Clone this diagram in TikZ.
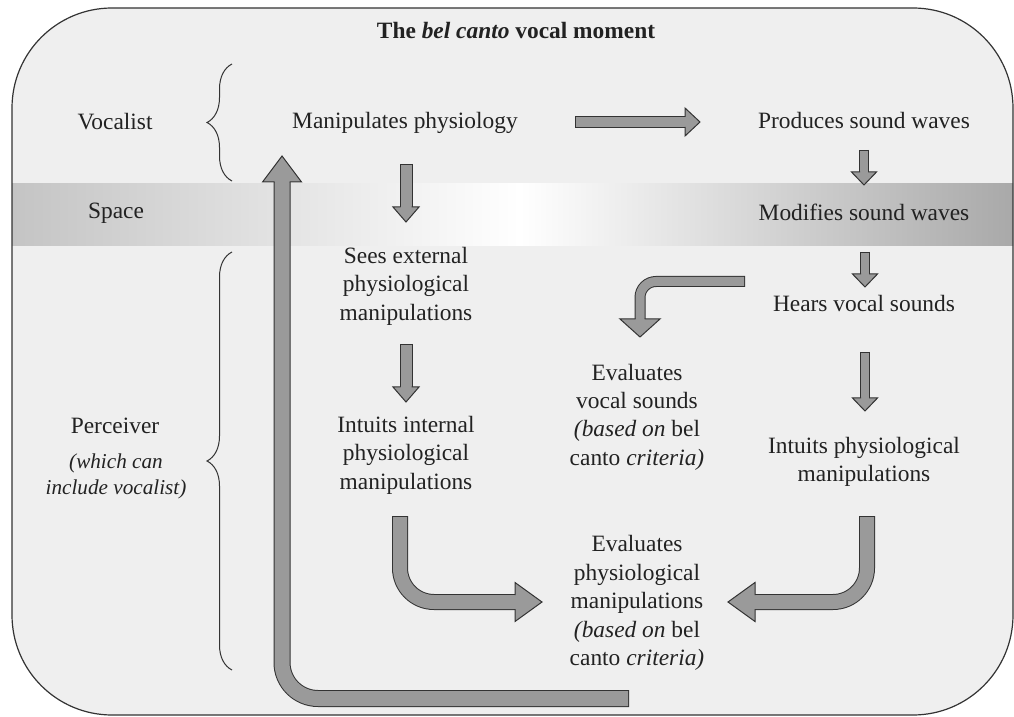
\documentclass[tikz,border=0pt]{standalone}
\usepackage{fontspec}
\setmainfont{Liberation Serif}
\usetikzlibrary{decorations.pathreplacing, decorations.markings, positioning}

\definecolor{bgfill}{HTML}{EFEFEF}
\definecolor{arrfill}{HTML}{9A9A9A}
\definecolor{arrline}{HTML}{333333}
\definecolor{bandL}{HTML}{C4C4C4}
\definecolor{bandR}{HTML}{A9A9A9}
\definecolor{txtcol}{HTML}{222222}

\newcommand{\mainfs}{\fontsize{11.7}{14.2}\selectfont}
\newcommand{\notefs}{\fontsize{10.6}{13}\selectfont}

\begin{document}
\begin{tikzpicture}[x=0.5pt, y=-0.5pt,
    txt/.style={font=\mainfs, text=txtcol, align=center, inner sep=0pt},
    note/.style={font=\notefs\itshape, text=txtcol, align=center, inner sep=0pt},
    brc/.style={decorate, decoration={brace, amplitude=12.5pt}, draw=arrline, line width=0.5pt},
    fat/.style args={#1/#2/#3}{draw=arrfill, line width=#1-1pt, shorten <=0.5pt, shorten >=#3,
        preaction={draw=arrline, line width=#1, shorten <=0pt, shorten >=#3},
        postaction={decorate, decoration={markings,
            mark=at position 1 with {\fill[arrfill, sharp corners] (-#3,-#2/2) -- (0,0) -- (-#3,#2/2) -- cycle;
                \draw[arrline, line width=0.5pt, sharp corners, shorten <=0pt, shorten >=0pt, line join=miter]
                    (-#3,#1/2-0.5pt) -- (-#3,#2/2) -- (0,0) -- (-#3,-#2/2) -- (-#3,-#1/2+0.5pt);}}}}
]
\useasboundingbox (0,0) rectangle (1014,717);

% frame and the space band
\fill[bgfill, rounded corners=50pt] (12,8) rectangle (1013,715);
\shade[left color=bandL, right color=white] (12,184) rectangle (520,246);
\shade[left color=white, right color=bandR] (520,184) rectangle (1013,246);
\draw[arrline, line width=0.6pt, rounded corners=50pt] (12,8) rectangle (1013,715);

\node[txt, font=\mainfs\bfseries, anchor=base] (title) at (516,39) {The \textit{bel canto} vocal moment};

% left column
\node[txt, anchor=base] (voc)  at (115,130) {Vocalist};
\node[txt, anchor=base] (spc)  at (116,219) {Space};
\node[txt, anchor=base] (perc) at (115,433) {Perceiver};
\node[note] (percnote) at (116,476) {(which can\\include vocalist)};

\draw[brc] (232,181) -- (232,64);
\draw[brc] (232,670) -- (232,252);

% steps
\node[txt, anchor=base] (mp)    at (405,129) {Manipulates physiology};
\node[txt, anchor=base] (prod)  at (864,129) {Produces sound waves};
\node[txt, anchor=base] (mod)   at (864,221) {Modifies sound waves};
\node[txt, anchor=base] (hears) at (864,312) {Hears vocal sounds};
\node[txt] (see)   at (406,286) {Sees external\\physiological\\manipulations};
\node[txt] (intin) at (406,455) {Intuits internal\\physiological\\manipulations};
\node[txt] (evvoc) at (637,417) {Evaluates\\vocal sounds\\\textit{(based on} bel\\canto \textit{criteria)}};
\node[txt] (intph) at (864,462) {Intuits physiological\\manipulations};
\node[txt] (evph)  at (637,603) {Evaluates\\physiological\\manipulations\\\textit{(based on} bel\\canto \textit{criteria)}};

% arrow ends
\coordinate (mp-out)    at (406,164);
\coordinate (see-in)    at (406,222);
\coordinate (see-out)   at (406,344);
\coordinate (intin-in)  at (406,402);
\coordinate (mp-right)  at (575,122);
\coordinate (prod-in)   at (700,122);
\coordinate (prod-out)  at (864,150);
\coordinate (mod-in)    at (864,185);
\coordinate (mod-out)   at (865,252);
\coordinate (hears-in)  at (865,287);
\coordinate (hears-out) at (865,352);
\coordinate (intph-in)  at (865,411);
\coordinate (hears-left) at (745,281.5);
\coordinate (evvoc-in)  at (640,337);
\coordinate (intin-out) at (400,516);
\coordinate (evph-left) at (542,602);
\coordinate (intph-out) at (867,516);
\coordinate (evph-right) at (728,602);
\coordinate (evph-out)  at (629,698.5);
\coordinate (mp-in)     at (282,156);

% block arrows
\draw[fat=6.5pt/13pt/7.5pt] (mp-out) -- (see-in);
\draw[fat=6.5pt/13pt/7.5pt] (see-out) -- (intin-in);
\draw[fat=6pt/14pt/7.5pt] (mp-right) -- (prod-in);
\draw[fat=5pt/12.5pt/6.5pt] (prod-out) -- (mod-in);
\draw[fat=5pt/12.5pt/6.5pt] (mod-out) -- (hears-in);
\draw[fat=5pt/12.5pt/6.5pt] (hears-out) -- (intph-in);
\draw[fat=5.5pt/20pt/9pt, rounded corners=8pt] (hears-left) -| (evvoc-in);
\draw[fat=8pt/19.5pt/13.5pt, rounded corners=17pt] (intin-out) |- (evph-left);
\draw[fat=8pt/19.5pt/13.5pt, rounded corners=17pt] (intph-out) |- (evph-right);
\draw[fat=8.5pt/19.5pt/13pt, rounded corners=18pt] (evph-out) -| (mp-in);
\end{tikzpicture}
\end{document}
